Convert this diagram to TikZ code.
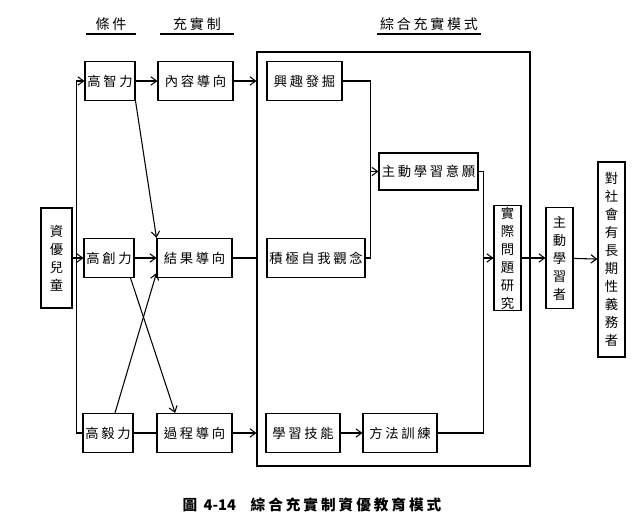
\documentclass[tikz,border=0pt]{standalone}
\usepackage{fontspec}
\setmainfont{Noto Sans CJK TC}[LetterSpace=20]
\usetikzlibrary{positioning,arrows.meta,calc}

\begin{document}
\begin{tikzpicture}[
    x=0.75pt, y=-0.75pt,
    font=\fontsize{10}{12}\selectfont,
    b/.style={draw, line width=0.8pt, inner sep=1pt, minimum height=29.25pt},
    vb/.style={draw, line width=0.8pt, align=center, inner sep=1pt, minimum width=20.25pt, font=\fontsize{10}{13.5}\selectfont},
    fl/.style={-{Straight Barb[length=1.5mm,width=2.2mm]}, line width=0.8pt},
    ln/.style={line width=0.8pt},
    hd/.style={anchor=south, inner sep=2pt, font=\fontsize{10.5}{12}\selectfont},
]
    \useasboundingbox (0,0) rectangle (637,532);
    % headings
    \node[hd, minimum width=37.5pt] (h1) at (111,34) {條件};
    \node[hd, minimum width=55.5pt] (h2) at (197,34) {充實制};
    \node[hd, minimum width=73.5pt] (h3) at (429,34) {綜合充實模式};
    \draw[ln] (h1.south west) -- (h1.south east);
    \draw[ln] (h2.south west) -- (h2.south east);
    \draw[ln] (h3.south west) -- (h3.south east);
    % frame of the combined model
    \node[draw, ln, minimum width=204.75pt, minimum height=310.5pt] (zh) at (393.5,259) {};
    % boxes
    \node[vb, minimum width=23.25pt, minimum height=75pt] (yr) at (56.5,258) {資\\優\\兒\\童};
    \node[b, minimum width=37.5pt] (gz) at (110,81) {高智力};
    \node[b, minimum width=37.5pt] (gc) at (109,258) {高創力};
    \node[b, minimum width=37.5pt] (gy) at (108,433) {高毅力};
    \node[b, minimum width=56.25pt] (nr) at (195.5,81) {內容導向};
    \node[b, minimum width=56.25pt] (jg) at (194.5,258) {結果導向};
    \node[b, minimum width=56.25pt] (gp) at (194.5,433) {過程導向};
    \node[b, minimum width=56.25pt] (xq) at (304.5,81) {興趣發掘};
    \node[b, minimum width=73.5pt] (jj) at (316,258) {積極自我觀念};
    \node[b, minimum width=55.5pt] (xj) at (303,433) {學習技能};
    \node[b, minimum width=55.5pt] (ff) at (400,433) {方法訓練};
    \node[b, minimum width=74.25pt, minimum height=27.75pt] (zd) at (428.5,171.5) {主動學習意願};
    \node[vb, minimum height=75pt] (sj) at (507.5,258) {實\\際\\問\\題\\研\\究};
    \node[vb, minimum height=75.75pt] (zx) at (559.5,258) {主\\動\\學\\習\\者};
    \node[vb, minimum height=146.25pt] (ds) at (611.5,259.5) {對\\社\\會\\有\\長\\期\\性\\義\\務\\者};
    % caption
    \node[font=\fontsize{11}{13}\selectfont\bfseries] (cap) at (312,505) {圖 {\addfontfeature{LetterSpace=0}4-14}\quad 綜合充實制資優教育模式};
    % connectors
    \draw[fl] (yr.east) -- (gc.west);
    \draw[fl] (gy.west) -- ++(-6,0) |- (gz.west);
    \draw[fl] (gz) -- (nr);
    \draw[fl] (gc) -- (jg);
    \draw[ln] (gy) -- (gp);
    \draw[fl] (gz.south east) -- (jg.north west);
    \draw[fl] ([xshift=-3pt]gc.south east) -- ([xshift=14pt]gp.north west);
    \draw[fl] ([xshift=5.25pt]gy.north) -- ([yshift=3.75pt]jg.south west);
    \draw[fl] (nr.east) -- (nr.east -| zh.west);
    \draw[ln] (jg.east) -- (jg.east -| zh.west);
    \draw[fl] (gp.east) -- (gp.east -| zh.west);
    \draw[fl] (xq.east) -- ++(28,0) |- (zd.west);
    \draw[ln] (jj.east) -- ++(5,0) |- (zd.west);
    \draw[fl] (xj) -- (ff);
    \draw[fl] (zd.east) -- ++(5,0) |- (sj.west);
    \draw[ln] (ff.east) -- ++(46,0) |- (sj.west);
    \draw[fl] (sj) -- (zx);
    \draw[fl] (zx) -- (ds);
\end{tikzpicture}
\end{document}
